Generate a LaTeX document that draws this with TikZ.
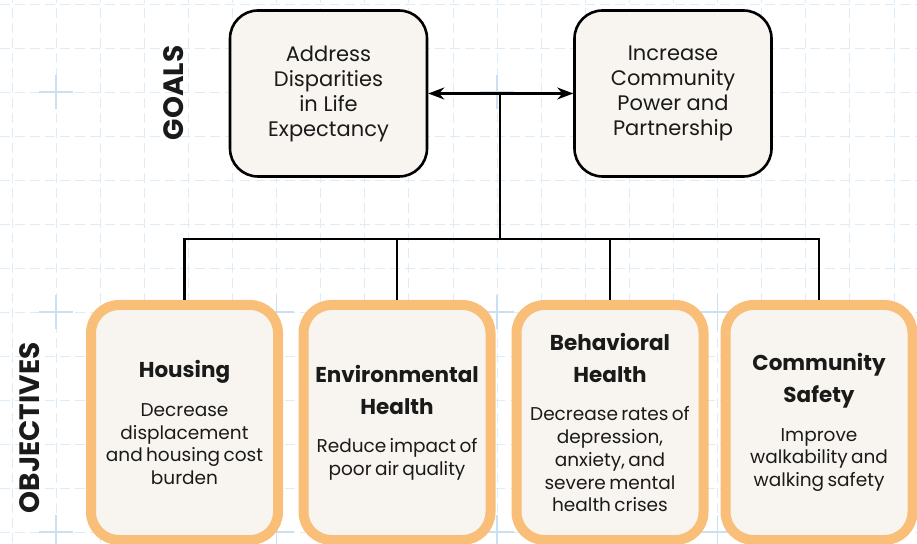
\documentclass[tikz,border=0pt]{standalone}
\usepackage{fontspec}
\setmainfont{Poppins}
\usetikzlibrary{arrows.meta}

\definecolor{cream}{HTML}{F8F5F0}
\definecolor{peach}{HTML}{F9BF78}
\definecolor{gridblue}{HTML}{DDECF7}
\definecolor{crossblue}{HTML}{CADFF1}
\definecolor{ink}{HTML}{1A1A1A}

\newcommand\goalfont{\fontsize{21}{25}\selectfont}
\newcommand\headfont{\bfseries\fontsize{21.5}{32}\selectfont}
\newcommand\descfont{\fontsize{18.5}{22.7}\selectfont}
\newcommand\sidefont{\bfseries\fontsize{28}{32}\selectfont}
\newcommand\objcontent[2]{{\headfont #1\par}\vspace{16pt}{\descfont #2\par}}

\begin{document}
\begin{tikzpicture}[x=1pt,y=1pt,
    gridline/.style={gridblue, line width=1pt, dash pattern=on 10pt off 5pt},
    crossline/.style={crossblue, line width=1.3pt},
    goal/.style={draw=black, line width=2.6pt, fill=cream, rounded corners=28pt,
      minimum width=197pt, minimum height=166pt, align=center, font=\goalfont, text=ink},
    objective/.style={draw=peach, line width=10pt, fill=cream, rounded corners=28pt,
      minimum width=187pt, minimum height=235pt, text width=185pt, align=center,
      inner sep=0pt, text=ink},
    link/.style={draw=black, line width=2.2pt},
    side/.style={rotate=90, font=\sidefont, text=ink}]
  \useasboundingbox (0,0) rectangle (917,543);
  % background grid
  \foreach \i in {0,...,20}
    \draw[gridline] ({12+44.1*\i},0) -- ({12+44.1*\i},543);
  \foreach \j in {0,...,12}
    \draw[gridline] (0,{538.5-44*\j}) -- (917,{538.5-44*\j});
  \foreach \cx in {56,276.5,497,717.5}
    \foreach \cy in {451,231,11}
      \draw[crossline] ({\cx-17},\cy) -- ({\cx+17},\cy) (\cx,{\cy-17}) -- (\cx,{\cy+17});

  % side labels
  \node[side] (goals) at (174,450) {GOALS};
  \node[side] (objectives) at (30,115) {OBJECTIVES};

  % goals
  \node[goal] (gl) at (328.5,449.5) {Address\\Disparities\\in Life\\Expectancy};
  \node[goal] (gr) at (673,449.5) {Increase\\Community\\Power and\\Partnership};

  % objectives
  \node[objective] (o1) at (184.5,120.5)
    {\objcontent{Housing}{Decrease\\displacement\\and housing cost\\burden}};
  \node[objective] (o2) at (397,120.5)
    {\objcontent{Environmental\\Health}{Reduce impact of\\poor air quality}};
  \node[objective] (o3) at (610,120.5)
    {\objcontent{Behavioral\\Health}{Decrease rates of\\depression,\\anxiety, and\\severe mental\\health crises}};
  \node[objective] (o4) at (819,120.5)
    {\objcontent{Community\\Safety}{Improve\\walkability and\\walking safety}};

  % connectors
  \coordinate (hub) at (500,449.5);
  \coordinate (bus) at (500,304);
  \draw[link, {Stealth[length=16pt,width=12pt]}-{Stealth[length=16pt,width=12pt]}] (gl) -- (gr);
  \draw[link] (hub) -- (bus);
  \draw[link] (o1.north) -- (o1.north |- bus) -- (o4.north |- bus) -- (o4.north);
  \foreach \b in {o2,o3}
    \draw[link] (\b.north) -- (\b.north |- bus);
\end{tikzpicture}
\end{document}
